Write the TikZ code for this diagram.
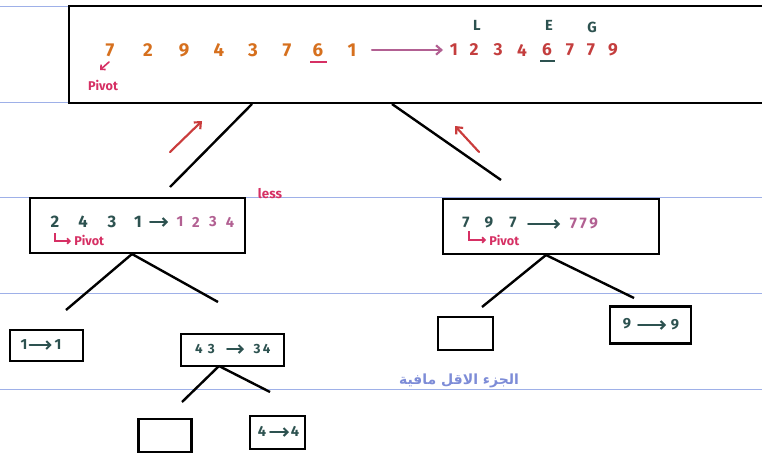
\documentclass[tikz,border=0pt]{standalone}
\usepackage{amsmath}
\usepackage{fontspec}
\setmainfont{Fira Sans}
\newfontfamily\arabicfont[Script=Arabic]{DejaVu Sans}
\TeXXeTstate=1
\usetikzlibrary{arrows.meta}
\definecolor{orangeink}{RGB}{214,112,30}
\definecolor{redink}{RGB}{196,62,62}
\definecolor{tealink}{RGB}{45,82,80}
\definecolor{mauveink}{RGB}{178,96,146}
\definecolor{pinkink}{RGB}{214,48,100}
\definecolor{ruleink}{RGB}{158,176,232}
\definecolor{arabicink}{RGB}{125,140,215}
\definecolor{arrowred}{RGB}{202,60,60}
\tikzset{
  rule/.style={draw=ruleink, line width=0.65pt},
  frame/.style={draw=black, line width=1.9pt},
  branch/.style={draw=black, line width=1.8pt},
  dig/.style={font=\bfseries\fontsize{14}{14}\selectfont, inner sep=0pt},
  middig/.style={font=\bfseries\fontsize{12.5}{12}\selectfont, inner sep=0pt},
  smalldig/.style={font=\bfseries\fontsize{11}{11}\selectfont, inner sep=0pt, text=tealink},
  lbl/.style={font=\bfseries\fontsize{9.5}{9}\selectfont, inner sep=0pt, text=pinkink},
  inkarrow/.style={line width=1.6pt, line cap=round, -{Straight Barb[length=4pt,width=7pt]}},
  smallarrow/.style={tealink, line width=1.5pt, line cap=round, -{Straight Barb[length=3pt,width=6pt]}},
}
\begin{document}
\begin{tikzpicture}[x=0.75pt, y=-0.75pt]
\useasboundingbox (0,0) rectangle (762,453);
\clip (0,0) rectangle (762,453);
\fill[white] (0,0) rectangle (762,453);

% ruled lines of the page
\foreach \yy in {6,102,197,293,389}
  \draw[rule] (0,\yy) -- (762,\yy);

% top box
\draw[frame, fill=white] (69,6) rectangle (775,103);
\coordinate (topL) at (252,104);
\coordinate (topR) at (392,104);

% unsorted list
\foreach \v/\xx [count=\i] in {7/110,2/148,9/184,4/219,3/253,7/287,6/318,1/352}
  \node[dig, text=orangeink] (u\i) at (\xx,50) {\v};
\draw[pinkink, line width=1.3pt] (310,62) -- (327,62);
\node[lbl] (pivA) at (103,85) {Pivot};
\draw[pinkink, line width=1.2pt, line cap=round, -{Straight Barb[length=2.5pt,width=5pt]}] (109,62) -- (100,70);

% partition arrow
\coordinate (pa1) at (372,50);
\coordinate (pa2) at (443,50);
\draw[mauveink, inkarrow] (pa1) -- (pa2);

% sorted list
\foreach \v/\xx [count=\i] in {1/454,2/474,3/498,4/522,6/547,7/570,7/591,9/613}
  \node[dig, text=redink, font=\bfseries\fontsize{13}{13}\selectfont] (s\i) at (\xx,50) {\v};
\draw[tealink, line width=1.3pt] (540,61) -- (555,61);
\node[smalldig] (mL) at (477,25) {L};
\node[smalldig] (mE) at (549,25) {E};
\node[smalldig] (mG) at (592,27) {G};

% recursion branches from the top box
\coordinate (bl) at (170,187);
\coordinate (br) at (501,180);
\draw[branch] (topL) -- (bl);
\draw[branch] (topR) -- (br);
\coordinate (ra1) at (170,152);
\coordinate (ra2) at (202,121);
\draw[arrowred, inkarrow] (ra1) -- (ra2);
\coordinate (rb1) at (479,152);
\coordinate (rb2) at (455,126);
\draw[arrowred, inkarrow] (rb1) -- (rb2);
\node[lbl, font=\bfseries\fontsize{10}{10}\selectfont] (less) at (270,194) {less};

% left middle box
\node[frame, minimum width=161pt, minimum height=41pt, inner sep=0pt] (lbox) at (137.5,225.5) {};
\foreach \v/\xx [count=\i] in {2/55,4/83,3/112,1/138}
  \node[middig, text=tealink] (la\i) at (\xx,222) {\v};
\draw[smallarrow] (150,222) -- (168,222);
\foreach \v/\xx [count=\i] in {1/180,2/196,3/213,4/230}
  \node[middig, text=mauveink, font=\bfseries\fontsize{11}{11}\selectfont] (lb\i) at (\xx,222) {\v};
\draw[pinkink, line width=1.3pt, -{Straight Barb[length=2pt,width=4pt]}] (55,233) -- (55,241) -- (71,241);
\node[lbl, anchor=west] (pivB) at (74,240) {Pivot};

% right middle box
\node[frame, minimum width=162pt, minimum height=41pt, inner sep=0pt] (rbox) at (551,226.5) {};
\foreach \v/\xx [count=\i] in {7/466,9/489,7/513}
  \node[middig, text=tealink, font=\bfseries\fontsize{11.5}{11}\selectfont] (ra\i) at (\xx,222) {\v};
\draw[smallarrow] (528,224) -- (560,224);
\node[middig, text=mauveink, font=\bfseries\fontsize{11.5}{11}\selectfont] (rb) at (584,223) {7\,7\,9};
\draw[pinkink, line width=1.3pt, -{Straight Barb[length=2pt,width=4pt]}] (469,231) -- (469,240) -- (486,240);
\node[lbl, anchor=west] (pivC) at (489,240) {Pivot};

% branches below the left middle box
\coordinate (lbb) at (132,254);
\coordinate (l1) at (66,310);
\coordinate (l2) at (218,302);
\draw[branch] (lbb) -- (l1);
\draw[branch] (lbb) -- (l2);

\node[frame, minimum width=55pt, minimum height=23pt, inner sep=0pt] (b11) at (46.5,345.5) {};
\node[smalldig] (b11a) at (24,345) {1};
\node[smalldig] (b11b) at (58,345) {1};
\draw[smallarrow] (b11a.east) ++(2,0) -- ([xshift=-2pt]b11b.west);

\node[frame, minimum width=77pt, minimum height=24pt, inner sep=0pt] (b43) at (232.5,350) {};
\node[smalldig, font=\bfseries\fontsize{10}{10}\selectfont] (b43a) at (205,349) {4\ \,3};
\node[smalldig, font=\bfseries\fontsize{10}{10}\selectfont] (b43b) at (262,349) {3\,4};
\draw[smallarrow] (227,349) -- (244,349);

\coordinate (b43bot) at (219,366);
\coordinate (l3) at (182,402);
\coordinate (l4) at (270,392);
\draw[branch] (b43bot) -- (l3);
\draw[branch] (b43bot) -- (l4);

\node[frame, minimum width=40pt, minimum height=25pt, inner sep=0pt] (e1) at (165,435.5) {};
\node[frame, minimum width=41pt, minimum height=25pt, inner sep=0pt] (b44) at (277.5,432.5) {};
\node[smalldig] (b44a) at (262,431) {4};
\node[smalldig] (b44b) at (295,431) {4};
\draw[smallarrow] (270,432) -- (289,432);

% branches below the right middle box
\coordinate (rbb) at (546,255);
\coordinate (r1) at (482,307);
\coordinate (r2) at (634,298);
\draw[branch] (rbb) -- (r1);
\draw[branch] (rbb) -- (r2);

\node[frame, minimum width=41pt, minimum height=25pt, inner sep=0pt] (e2) at (465.5,333.5) {};
\node[frame, minimum width=61pt, minimum height=28pt, inner sep=0pt] (b99) at (650.5,325) {};
\node[smalldig] (b99a) at (627,324) {9};
\node[smalldig] (b99b) at (675,325) {9};
\draw[smallarrow] (638,325) -- (666,325);

% note in Arabic
\node[inner sep=0pt, text=arabicink, font=\arabicfont\bfseries\fontsize{10.5}{11}\selectfont] (note) at (459,381) {\beginR الجزء الاقل مافية\endR};
\end{tikzpicture}
\end{document}
